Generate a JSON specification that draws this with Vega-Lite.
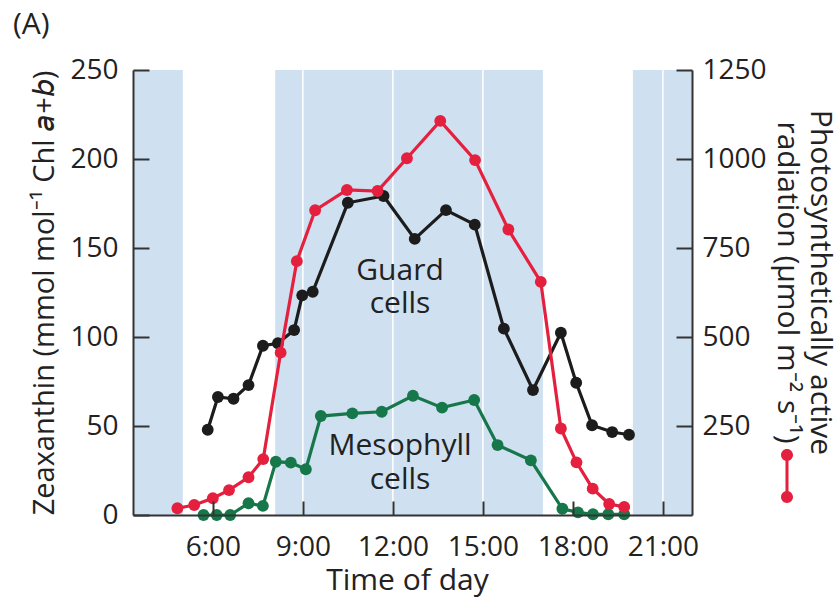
{
  "$schema": "https://vega.github.io/schema/vega-lite/v6.json",
  "width": 559,
  "height": 445,
  "autosize": {"type": "none"},
  "padding": {"left": 133, "top": 70, "right": 148, "bottom": 84},
  "background": "white",
  "config": {
    "view": {"stroke": null},
    "font": "Open Sans",
    "axis": {
      "labelFont": "Open Sans",
      "titleFont": "Open Sans",
      "labelFontSize": 28,
      "titleFontSize": 30,
      "titleFontWeight": "normal",
      "labelColor": "#222222",
      "titleColor": "#222222",
      "domainColor": "#333333",
      "tickColor": "#333333",
      "domainWidth": 2,
      "tickWidth": 2,
      "grid": false
    }
  },
  "title": {
    "text": "(A)",
    "anchor": "start",
    "frame": "bounds",
    "font": "Open Sans",
    "fontSize": 30,
    "fontWeight": "normal",
    "color": "#222222",
    "dx": -18,
    "offset": 16
  },
  "datasets": {
    "bands": [
      {"start": 3.34, "end": 5.0},
      {"start": 8.08, "end": 17.0},
      {"start": 20.0, "end": 21.97}
    ],
    "grid": [
      {"hour": 6}, {"hour": 9}, {"hour": 12}, {"hour": 15}, {"hour": 18}, {"hour": 21}
    ],
    "guard": [
      {"hour": 5.83, "value": 47.9},
      {"hour": 6.17, "value": 66.3},
      {"hour": 6.69, "value": 65.3},
      {"hour": 7.19, "value": 73.0},
      {"hour": 7.67, "value": 95.1},
      {"hour": 8.17, "value": 96.5},
      {"hour": 8.71, "value": 103.9},
      {"hour": 8.98, "value": 123.4},
      {"hour": 9.33, "value": 125.4},
      {"hour": 10.5, "value": 175.4},
      {"hour": 11.69, "value": 179.2},
      {"hour": 12.73, "value": 155.1},
      {"hour": 13.77, "value": 171.3},
      {"hour": 14.73, "value": 163.1},
      {"hour": 15.7, "value": 104.7},
      {"hour": 16.67, "value": 70.2},
      {"hour": 17.6, "value": 102.4},
      {"hour": 18.11, "value": 74.3},
      {"hour": 18.64, "value": 50.4},
      {"hour": 19.31, "value": 46.6},
      {"hour": 19.87, "value": 45.1}
    ],
    "mesophyll": [
      {"hour": 5.69, "value": 0},
      {"hour": 6.13, "value": 0},
      {"hour": 6.58, "value": 0},
      {"hour": 7.19, "value": 6.6},
      {"hour": 7.67, "value": 5.1},
      {"hour": 8.1, "value": 29.9},
      {"hour": 8.6, "value": 29.4},
      {"hour": 9.1, "value": 25.7},
      {"hour": 9.6, "value": 55.6},
      {"hour": 10.65, "value": 57.1},
      {"hour": 11.63, "value": 58.0},
      {"hour": 12.67, "value": 67.0},
      {"hour": 13.64, "value": 60.3},
      {"hour": 14.71, "value": 64.6},
      {"hour": 15.49, "value": 39.3},
      {"hour": 16.6, "value": 30.7},
      {"hour": 17.65, "value": 3.5},
      {"hour": 18.17, "value": 1.5},
      {"hour": 18.67, "value": 0.4},
      {"hour": 19.18, "value": 0.4},
      {"hour": 19.71, "value": 0.4}
    ],
    "par": [
      {"hour": 4.82, "par": 19},
      {"hour": 5.38, "par": 28},
      {"hour": 6.0, "par": 47},
      {"hour": 6.54, "par": 70},
      {"hour": 7.19, "par": 106},
      {"hour": 7.68, "par": 157},
      {"hour": 8.26, "par": 456},
      {"hour": 8.8, "par": 713},
      {"hour": 9.41, "par": 856},
      {"hour": 10.47, "par": 913},
      {"hour": 11.49, "par": 910},
      {"hour": 12.47, "par": 1002},
      {"hour": 13.58, "par": 1107},
      {"hour": 14.74, "par": 997},
      {"hour": 15.85, "par": 802},
      {"hour": 16.93, "par": 655},
      {"hour": 17.6, "par": 243},
      {"hour": 18.12, "par": 148},
      {"hour": 18.66, "par": 74},
      {"hour": 19.21, "par": 31},
      {"hour": 19.71, "par": 23}
    ],
    "labels": [
      {"hour": 12.24, "value": 137.1, "text": "Guard"},
      {"hour": 12.24, "value": 118.5, "text": "cells"},
      {"hour": 12.24, "value": 38.8, "text": "Mesophyll"},
      {"hour": 12.24, "value": 19.7, "text": "cells"}
    ]
  },
  "layer": [
    {
      "data": {"name": "bands"},
      "mark": {"type": "rect", "color": "#cfe0f1"},
      "encoding": {
        "x": {
          "field": "start",
          "type": "quantitative",
          "title": "Time of day",
          "scale": {"domain": [3.34, 21.97], "nice": false, "zero": false},
          "axis": {
            "values": [6, 9, 12, 15, 18, 21],
            "labelExpr": "datum.value + ':00'",
            "tickSize": -14,
            "labelPadding": 32,
            "titlePadding": 4,
            "titleX": 274,
            "labelFlush": false,
            "zindex": 1
          }
        },
        "x2": {"field": "end"}
      }
    },
    {
      "data": {"name": "grid"},
      "mark": {"type": "rule", "color": "white", "strokeWidth": 1.5},
      "encoding": {
        "x": {"field": "hour", "type": "quantitative", "title": "Time of day"}
      }
    },
    {
      "layer": [
        {
          "data": {"name": "mesophyll"},
          "mark": {"type": "line", "color": "#16784a", "strokeWidth": 3.2},
          "encoding": {
            "x": {"field": "hour", "type": "quantitative", "title": "Time of day"},
            "y": {
              "field": "value",
              "type": "quantitative",
              "title": "Zeaxanthin (mmol mol⁻¹ Chl 𝘢+𝘣)",
              "scale": {"domain": [0, 250], "nice": false},
              "axis": {
                "orient": "left",
                "values": [0, 50, 100, 150, 200, 250],
                "tickSize": -16,
                "labelPadding": 31,
                "titlePadding": 10,
                "titleFontSize": 29,
                "zindex": 1
              }
            }
          }
        },
        {
          "data": {"name": "mesophyll"},
          "mark": {"type": "point", "filled": true, "opacity": 1, "color": "#16784a", "size": 140},
          "encoding": {
            "x": {"field": "hour", "type": "quantitative", "title": "Time of day"},
            "y": {"field": "value", "type": "quantitative"}
          }
        },
        {
          "data": {"name": "guard"},
          "mark": {"type": "line", "color": "#1c1c1c", "strokeWidth": 3.2},
          "encoding": {
            "x": {"field": "hour", "type": "quantitative", "title": "Time of day"},
            "y": {"field": "value", "type": "quantitative"}
          }
        },
        {
          "data": {"name": "guard"},
          "mark": {"type": "point", "filled": true, "opacity": 1, "color": "#1c1c1c", "size": 140},
          "encoding": {
            "x": {"field": "hour", "type": "quantitative", "title": "Time of day"},
            "y": {"field": "value", "type": "quantitative"}
          }
        },
        {
          "data": {"name": "labels"},
          "mark": {"type": "text", "font": "Open Sans", "fontSize": 30, "color": "#222222", "align": "center", "baseline": "middle"},
          "encoding": {
            "x": {"field": "hour", "type": "quantitative", "title": "Time of day"},
            "y": {"field": "value", "type": "quantitative"},
            "text": {"field": "text"}
          }
        }
      ]
    },
    {
      "layer": [
        {
          "data": {"name": "par"},
          "mark": {"type": "line", "color": "#e4203e", "strokeWidth": 3.2},
          "encoding": {
            "x": {"field": "hour", "type": "quantitative", "title": "Time of day"},
            "y": {
              "field": "par",
              "type": "quantitative",
              "title": ["Photosynthetically active", "radiation (µmol m⁻² s⁻¹)"],
              "scale": {"domain": [0, 1250], "nice": false},
              "axis": {
                "orient": "right",
                "values": [250, 500, 750, 1000, 1250],
                "format": "d",
                "tickSize": -16,
                "labelPadding": 26,
                "titleAngle": 90,
                "titlePadding": 5,
                "titleY": 212,
                "titleLineHeight": 33,
                "zindex": 1
              }
            }
          }
        },
        {
          "data": {"name": "par"},
          "mark": {"type": "point", "filled": true, "opacity": 1, "size": 140},
          "encoding": {
            "x": {"field": "hour", "type": "quantitative", "title": "Time of day"},
            "y": {"field": "par", "type": "quantitative"},
            "color": {
              "datum": "PAR",
              "scale": {"range": ["#e4203e"]},
              "legend": {
                "orient": "none",
                "legendX": 627,
                "legendY": 379,
                "title": null,
                "labelExpr": "''",
                "padding": 0,
                "symbolType": "M0,-1A0.222,0.222,0,1,1,0,-0.556A0.222,0.222,0,1,1,0,-1Z M0,0.556A0.222,0.222,0,1,1,0,1A0.222,0.222,0,1,1,0,0.556Z M-0.056,-0.6L0.056,-0.6L0.056,0.6L-0.056,0.6Z",
                "symbolSize": 2916,
                "symbolStrokeWidth": 0,
                "symbolOpacity": 1
              }
            }
          }
        }
      ]
    }
  ],
  "resolve": {"scale": {"y": "independent"}, "axis": {"y": "independent"}}
}
